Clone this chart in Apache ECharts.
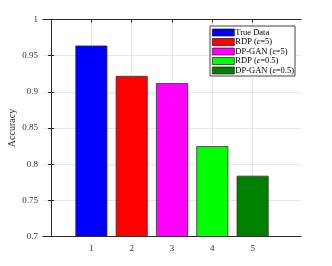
<!DOCTYPE html>
<html><head><meta charset="utf-8">
<script src="https://cdn.jsdelivr.net/npm/echarts@6/dist/echarts.min.js"></script>
<style>html,body{margin:0;padding:0;background:#fff}#c{width:332px;height:266px}</style>
</head><body><div id="c"></div>
<script>
var categories = [1, 2, 3, 4, 5];
var seriesNames = ['True Data', 'RDP (ε=5)', 'DP-GAN (ε=5)', 'RDP (ε=0.5)', 'DP-GAN (ε=0.5)'];
var values = [0.964, 0.922, 0.912, 0.825, 0.784];
var yTicks = [0.7, 0.75, 0.8, 0.85, 0.9, 0.95, 1];
var colors = ['#0000ff', '#ff0000', '#ff00ff', '#00ff00', '#008000'];

var FONT = 'Liberation Serif';
var axisCol = '#262626';
var chart = echarts.init(document.getElementById('c'));
var series = seriesNames.map(function (n, i) {
  return {
    name: n, type: 'bar', xAxisIndex: 0, yAxisIndex: 0,
    barWidth: 32, barGap: '-100%',
    itemStyle: { color: colors[i], borderColor: '#333', borderWidth: 0.8 },
    data: [[categories[i], values[i]]]
  };
});
var common = {
  axisLine: { show: true, lineStyle: { color: axisCol, width: 1 } },
  axisTick: { show: true, inside: true, length: 3, lineStyle: { color: axisCol } }
};
chart.setOption({
  animation: false,
  backgroundColor: '#fff',
  grid: { left: 43, right: 31, top: 19.5, bottom: 29.5, containLabel: false, outerBoundsMode: 'none' },
  legend: {
    orient: 'vertical', right: 37, top: 26,
    data: seriesNames,
    itemWidth: 22, itemHeight: 7, itemGap: 0.5,
    icon: 'rect',
    itemStyle: { borderColor: '#000', borderWidth: 0.6 },
    borderColor: '#444', borderWidth: 1, padding: [2, 1, 1, 2],
    backgroundColor: '#fff',
    textStyle: { fontFamily: FONT, fontSize: 8.5, lineHeight: 8, color: '#000', padding: [0, 0, 0, -4],
      rich: { i: { fontFamily: FONT, fontStyle: 'italic', fontSize: 8.5, lineHeight: 8, color: '#000' } } },
    formatter: function (n) { return n.replace('ε', '{i|ε}'); }
  },
  xAxis: [
    Object.assign({}, common, {
      type: 'value', min: -0.2, max: 6.2, position: 'bottom',
      axisTick: { show: true, inside: true, length: 3, lineStyle: { color: axisCol }, customValues: categories },
      axisLabel: { customValues: categories, fontFamily: FONT, fontSize: 9, color: '#333', margin: 8 },
      splitLine: { show: true, lineStyle: { color: '#e8e8e8', width: 1 } }
    }),
    Object.assign({}, common, {
      type: 'value', min: -0.2, max: 6.2, position: 'top',
      axisTick: { show: true, inside: true, length: 3, lineStyle: { color: axisCol }, customValues: categories },
      axisLabel: { show: false }, splitLine: { show: false }
    })
  ],
  yAxis: [
    Object.assign({}, common, {
      type: 'value', min: 0.7, max: 1, interval: 0.05, position: 'left',
      name: 'Accuracy', nameLocation: 'middle', nameGap: 26, nameMoveOverlap: false,
      nameTextStyle: { fontFamily: FONT, fontSize: 10, color: '#333' },
      axisLabel: { fontFamily: FONT, fontSize: 9, color: '#333', margin: 5,
        formatter: function (v) { var i = yTicks.indexOf(Math.round(v * 100) / 100); return i >= 0 ? String(yTicks[i]) : ''; } },
      splitLine: { show: true, lineStyle: { color: '#e8e8e8', width: 1 } }
    }),
    Object.assign({}, common, {
      type: 'value', min: 0.7, max: 1, interval: 0.05, position: 'right',
      axisLabel: { show: false }, splitLine: { show: false }
    })
  ],
  series: series
});
</script></body></html>
